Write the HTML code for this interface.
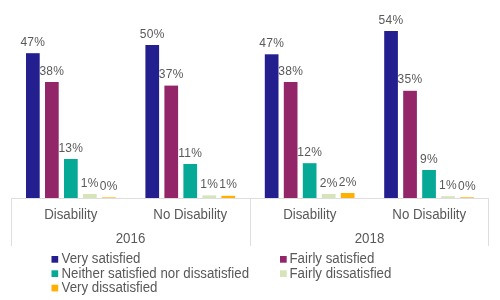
<!DOCTYPE html>
<html><head><meta charset="utf-8"><style>
html,body{margin:0;padding:0;background:#fff;}
body{width:500px;height:300px;overflow:hidden;}
svg{display:block;}
text{font-family:"Liberation Sans",sans-serif;fill:#595959;}
.v{font-size:12px;text-anchor:middle;letter-spacing:0.3px;}
svg text{will-change:transform;}
.c{font-size:13.3px;text-anchor:middle;}
.l{font-size:13.3px;}
</style></head><body>
<svg width="500" height="300" viewBox="0 0 500 300">
<g>
<rect x="26.00" y="53.2" width="13.7" height="144.80" fill="#231F8F"/>
<rect x="45.00" y="82" width="13.7" height="116.00" fill="#922668"/>
<rect x="64.00" y="159" width="13.7" height="39.00" fill="#06A996"/>
<rect x="83.00" y="194" width="13.7" height="4.00" fill="#D6E4B8"/>
<rect x="102.00" y="197.4" width="13.7" height="0.60" fill="#FFB000"/>
<rect x="145.40" y="45" width="13.7" height="153.00" fill="#231F8F"/>
<rect x="164.40" y="85.6" width="13.7" height="112.40" fill="#922668"/>
<rect x="183.40" y="164" width="13.7" height="34.00" fill="#06A996"/>
<rect x="202.40" y="195.4" width="13.7" height="2.60" fill="#D6E4B8"/>
<rect x="221.40" y="195.8" width="13.7" height="2.20" fill="#FFB000"/>
<rect x="264.80" y="54.3" width="13.7" height="143.70" fill="#231F8F"/>
<rect x="283.80" y="82" width="13.7" height="116.00" fill="#922668"/>
<rect x="302.80" y="163.2" width="13.7" height="34.80" fill="#06A996"/>
<rect x="321.80" y="194" width="13.7" height="4.00" fill="#D6E4B8"/>
<rect x="340.80" y="193" width="13.7" height="5.00" fill="#FFB000"/>
<rect x="384.20" y="31" width="13.7" height="167.00" fill="#231F8F"/>
<rect x="403.20" y="90.8" width="13.7" height="107.20" fill="#922668"/>
<rect x="422.20" y="170" width="13.7" height="28.00" fill="#06A996"/>
<rect x="441.20" y="196.2" width="13.7" height="1.80" fill="#D6E4B8"/>
<rect x="460.20" y="197.3" width="13.7" height="0.70" fill="#FFB000"/>
<text x="32.85" y="45.7" class="v">47%</text>
<text x="51.85" y="74.5" class="v">38%</text>
<text x="70.85" y="151.5" class="v">13%</text>
<text x="89.85" y="186.5" class="v">1%</text>
<text x="108.85" y="189.9" class="v">0%</text>
<text x="152.25" y="37.5" class="v">50%</text>
<text x="171.25" y="78.1" class="v">37%</text>
<text x="190.25" y="156.5" class="v">11%</text>
<text x="209.25" y="187.9" class="v">1%</text>
<text x="228.25" y="188.3" class="v">1%</text>
<text x="271.65" y="46.8" class="v">47%</text>
<text x="290.65" y="74.5" class="v">38%</text>
<text x="309.65" y="155.7" class="v">12%</text>
<text x="328.65" y="186.5" class="v">2%</text>
<text x="347.65" y="185.5" class="v">2%</text>
<text x="391.05" y="23.5" class="v">54%</text>
<text x="410.05" y="83.3" class="v">35%</text>
<text x="429.05" y="162.5" class="v">9%</text>
<text x="448.05" y="188.7" class="v">1%</text>
<text x="467.05" y="189.8" class="v">0%</text>
</g><g shape-rendering="crispEdges">
<rect x="11" y="198" width="478" height="1" fill="#DEDEDE"/>
<rect x="11" y="198" width="1" height="48" fill="#DEDEDE"/>
<rect x="250" y="198" width="1" height="48" fill="#DEDEDE"/>
<rect x="488" y="198" width="1" height="48" fill="#DEDEDE"/>
</g>
<text transform="translate(70.75,219) scale(1,1.06)" class="c">Disability</text>
<text transform="translate(190.25,219) scale(1,1.06)" class="c">No Disability</text>
<text transform="translate(309.75,219) scale(1,1.06)" class="c">Disability</text>
<text transform="translate(429.25,219) scale(1,1.06)" class="c">No Disability</text>
<text transform="translate(130.5,242.7) scale(1,1.06)" class="c">2016</text>
<text transform="translate(369.5,242.7) scale(1,1.06)" class="c">2018</text>
<g>
<rect x="51.5" y="256" width="6.7" height="6.7" fill="#231F8F"/>
<rect x="51.5" y="270.3" width="6.7" height="6.7" fill="#06A996"/>
<rect x="51.5" y="284.7" width="6.7" height="6.7" fill="#FFB000"/>
<rect x="280" y="256" width="6.7" height="6.7" fill="#922668"/>
<rect x="280" y="270.3" width="6.7" height="6.7" fill="#D6E4B8"/>
</g>
<text transform="translate(61.5,263.2) scale(1,1.06)" class="l">Very satisfied</text>
<text transform="translate(61.5,277.8) scale(1,1.06)" class="l">Neither satisfied nor dissatisfied</text>
<text transform="translate(61.5,292.2) scale(1,1.06)" class="l">Very dissatisfied</text>
<text transform="translate(289.5,263.2) scale(1,1.06)" class="l">Fairly satisfied</text>
<text transform="translate(289.5,277.8) scale(1,1.06)" class="l">Fairly dissatisfied</text>
</svg>
</body></html>
